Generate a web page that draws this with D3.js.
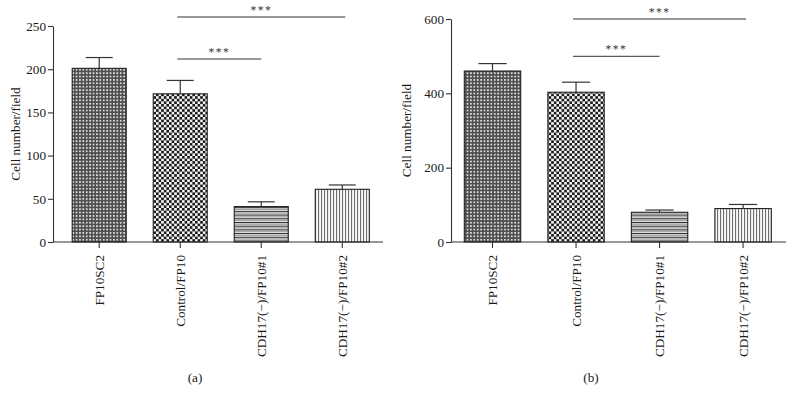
<!DOCTYPE html>
<html>
<head>
<meta charset="utf-8">
<script src="https://cdn.jsdelivr.net/npm/d3@7/dist/d3.min.js"></script>
<style>
  html, body { margin: 0; padding: 0; background: #fff; }
  svg { display: block; font-family: "Liberation Serif", "DejaVu Serif", serif; }
</style>
</head>
<body>
<svg id="chart" width="794" height="402"></svg>
<script>
// ---- data ----
const categories = ["FP10SC2", "Control/FP10", "CDH17(\u2212)/FP10#1", "CDH17(\u2212)/FP10#2"];
const meansA = [201, 171.5, 41, 61];
const errA   = [12.5, 15.5, 5.5, 5];
const meansB = [460, 403, 80, 90];
const errB   = [20, 27, 6, 11];
const ticksA = [0, 50, 100, 150, 200, 250];
const ticksB = [0, 200, 400, 600];
const sigPairs = [[1, 3, "***"], [1, 2, "***"]];
const yTitle = "Cell number/field";
const panelLabels = ["(a)", "(b)"];
const patternIds = ["pFine", "pChecker", "pHoriz", "pVert"];

const svg = d3.select("#chart");
const defs = svg.append("defs");
const FS = 13.2;

// fine dot/grid pattern
let p = defs.append("pattern").attr("id", "pFine").attr("patternUnits", "userSpaceOnUse")
  .attr("width", 3.4).attr("height", 3.4);
p.append("rect").attr("width", 3.4).attr("height", 3.4).attr("fill", "#4d4d4d");
p.append("rect").attr("x", 0.9).attr("y", 0.9).attr("width", 1.7).attr("height", 1.7).attr("fill", "#e6e6e6");

// coarse checkerboard
p = defs.append("pattern").attr("id", "pChecker").attr("patternUnits", "userSpaceOnUse")
  .attr("width", 5.2).attr("height", 5.2);
p.append("rect").attr("width", 5.2).attr("height", 5.2).attr("fill", "#f4f4f4");
p.append("rect").attr("width", 2.6).attr("height", 2.6).attr("fill", "#1a1a1a");
p.append("rect").attr("x", 2.6).attr("y", 2.6).attr("width", 2.6).attr("height", 2.6).attr("fill", "#1a1a1a");

// horizontal stripes
p = defs.append("pattern").attr("id", "pHoriz").attr("patternUnits", "userSpaceOnUse")
  .attr("width", 4).attr("height", 3.7);
p.append("rect").attr("width", 4).attr("height", 3.7).attr("fill", "#f2f2f2");
p.append("rect").attr("y", 0).attr("width", 4).attr("height", 1.1).attr("fill", "#2a2a2a");
p.append("rect").attr("y", 1.9).attr("width", 4).attr("height", 1.0).attr("fill", "#9a9a9a");

// vertical stripes
p = defs.append("pattern").attr("id", "pVert").attr("patternUnits", "userSpaceOnUse")
  .attr("width", 3).attr("height", 4);
p.append("rect").attr("width", 3).attr("height", 4).attr("fill", "#fafafa");
p.append("rect").attr("x", 0).attr("width", 1.1).attr("height", 4).attr("fill", "#6e6e6e");

function panel(cfg) {
  const { means, errs, ticks, yDomainMax, yRange, xRange, axisX0, axisX1, padInner, label, labelPos, titleX, sig } = cfg;
  const y = d3.scaleLinear().domain([0, yDomainMax]).range(yRange);
  const x = d3.scaleBand().domain(categories).range(xRange).paddingInner(padInner).paddingOuter(0.2);
  const g = svg.append("g");
  const axisColor = "#333";

  // bars
  g.selectAll("rect.bar").data(categories).enter().append("rect")
    .attr("class", "bar")
    .attr("x", d => x(d))
    .attr("width", x.bandwidth())
    .attr("y", (d, i) => y(means[i]))
    .attr("height", (d, i) => y(0) - y(means[i]))
    .attr("fill", (d, i) => `url(#${patternIds[i]})`)
    .attr("stroke", "#222").attr("stroke-width", 1.1);

  // error bars (upper only)
  categories.forEach((c, i) => {
    const cx = x(c) + x.bandwidth() / 2;
    const half = x.bandwidth() / 4;
    g.append("line").attr("x1", cx).attr("x2", cx)
      .attr("y1", y(means[i])).attr("y2", y(means[i] + errs[i]))
      .attr("stroke", "#333").attr("stroke-width", 1.2);
    g.append("line").attr("x1", cx - half).attr("x2", cx + half)
      .attr("y1", y(means[i] + errs[i])).attr("y2", y(means[i] + errs[i]))
      .attr("stroke", "#333").attr("stroke-width", 1.2);
  });

  // y axis
  const ya = g.append("g").attr("transform", `translate(${axisX0},0)`)
    .call(d3.axisLeft(y).tickValues(ticks).tickSize(5).tickPadding(2).tickSizeOuter(0));
  ya.select(".domain").attr("stroke", axisColor).attr("stroke-width", 1.1);
  ya.selectAll(".tick line").attr("stroke", axisColor).attr("stroke-width", 1.1);
  ya.selectAll(".tick text").attr("font-size", FS).attr("fill", "#1a1a1a")
    .attr("font-family", "Liberation Serif");

  // x axis line
  g.append("line").attr("x1", axisX0).attr("x2", axisX1)
    .attr("y1", y(0)).attr("y2", y(0)).attr("stroke", axisColor).attr("stroke-width", 1.1);
  const xa = g.append("g").attr("transform", `translate(0,${y(0)})`)
    .call(d3.axisBottom(x).tickSize(6).tickSizeOuter(0));
  xa.select(".domain").remove();
  xa.selectAll(".tick line").attr("stroke", axisColor).attr("stroke-width", 1.1);
  xa.selectAll(".tick text")
    .attr("font-size", FS).attr("fill", "#1a1a1a").attr("font-family", "Liberation Serif")
    .attr("text-anchor", "end")
    .attr("transform", "rotate(-90)")
    .attr("x", -13).attr("y", 0).attr("dy", "0.35em");

  // y title
  g.append("text")
    .attr("transform", `translate(${titleX},${(yRange[0] + yRange[1]) / 2}) rotate(-90)`)
    .attr("text-anchor", "middle").attr("dy", "0.35em")
    .attr("font-size", FS).attr("fill", "#1a1a1a")
    .text(yTitle);

  // significance brackets
  sigPairs.forEach((s, k) => {
    const [a, b, txt] = s;
    const xa0 = x(categories[a]) + x.bandwidth() / 2 - 3;
    const xa1 = x(categories[b]) + x.bandwidth() / 2 + (k === 0 ? 3 : 0);
    const ly = sig[k];
    g.append("line").attr("x1", xa0).attr("x2", xa1).attr("y1", ly).attr("y2", ly)
      .attr("stroke", "#333").attr("stroke-width", 1);
    g.append("text").attr("x", (xa0 + xa1) / 2).attr("y", ly - 3)
      .attr("text-anchor", "middle").attr("font-size", 11.5).attr("letter-spacing", 1.5)
      .attr("fill", "#333").text(txt);
  });

  // panel label
  svg.append("text").attr("x", labelPos[0]).attr("y", labelPos[1])
    .attr("text-anchor", "middle").attr("dy", "0.35em").attr("font-size", FS)
    .attr("fill", "#1a1a1a").text(label);
}

panel({
  means: meansA, errs: errA, ticks: ticksA, yDomainMax: 250,
  yRange: [242, 26], xRange: [56, 385.5], axisX0: 53, axisX1: 383, padInner: 1 / 3,
  label: panelLabels[0], labelPos: [195, 377], titleX: 15, sig: [17, 59]
});
panel({
  means: meansB, errs: errB, ticks: ticksB, yDomainMax: 600,
  yRange: [242, 19], xRange: [447.6, 788], axisX0: 451, axisX1: 786, padInner: 0.325,
  label: panelLabels[1], labelPos: [591, 377], titleX: 406, sig: [19, 56.3]
});
</script>
</body>
</html>
